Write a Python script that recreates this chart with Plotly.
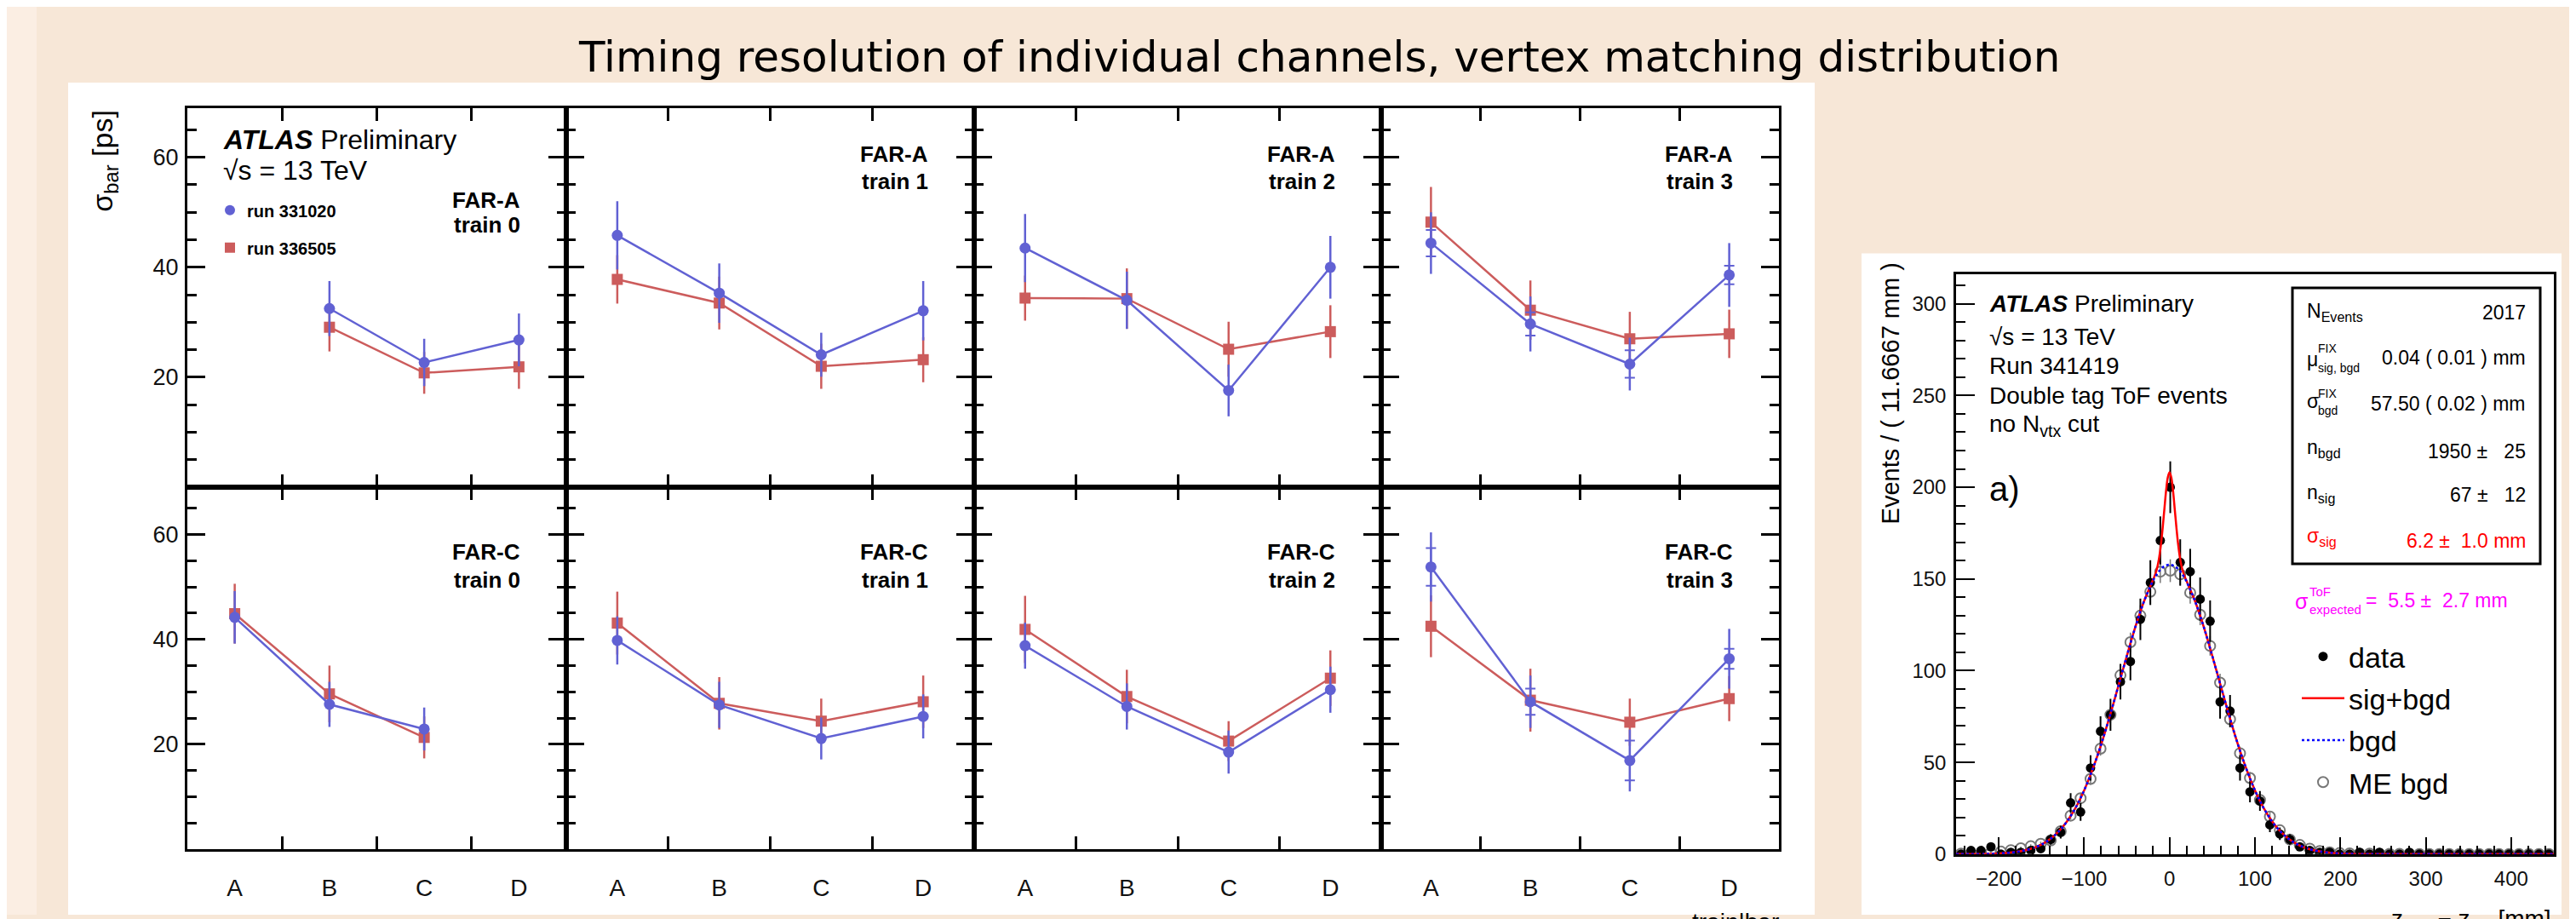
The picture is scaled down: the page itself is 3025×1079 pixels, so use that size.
import plotly.graph_objects as go

W, H = 3025, 1079


def PX(x):
    return x / W


def PY(y):
    return 1 - y / H


# ---------------- data : left grid (sigma_bar in ps) ----------------
categories = ["A", "B", "C", "D"]
cat_pos = [0, 1, 2, 3]
y_ticks_left = [20, 40, 60]

fara_t0_r331020 = [None, 32.5, 22.7, 26.8]
fara_t0_r331020_err = [None, 5.0, 4.3, 4.8]
fara_t0_r336505 = [None, 29.1, 20.8, 21.9]
fara_t0_r336505_err = [None, 4.4, 3.8, 4.0]

fara_t1_r331020 = [45.8, 35.3, 24.1, 32.1]
fara_t1_r331020_err = [6.2, 5.4, 4.0, 5.4]
fara_t1_r336505 = [37.8, 33.5, 22.0, 23.2]
fara_t1_r336505_err = [4.4, 4.8, 4.1, 4.1]

fara_t2_r331020 = [43.5, 34.0, 17.6, 40.0]
fara_t2_r331020_err = [6.2, 5.2, 4.7, 5.7]
fara_t2_r336505 = [34.4, 34.3, 25.1, 28.3]
fara_t2_r336505_err = [4.1, 5.5, 5.0, 4.8]

fara_t3_r331020 = [44.4, 29.7, 22.4, 38.6]
fara_t3_r331020_err = [5.6, 5.0, 4.8, 5.8]
fara_t3_r331020_stat = [2.4, 2.1, 2.5, 1.7]
fara_t3_r336505 = [48.2, 32.2, 27.0, 27.9]
fara_t3_r336505_err = [6.4, 5.4, 4.9, 4.4]

farc_t0_r331020 = [44.2, 27.6, 22.9, None]
farc_t0_r331020_err = [5.0, 4.3, 4.1, None]
farc_t0_r336505 = [44.9, 29.6, 21.3, None]
farc_t0_r336505_err = [5.7, 5.4, 4.0, None]

farc_t1_r331020 = [39.8, 27.5, 21.1, 25.3]
farc_t1_r331020_err = [4.6, 4.4, 4.0, 4.2]
farc_t1_r336505 = [43.1, 27.8, 24.4, 28.1]
farc_t1_r336505_err = [6.0, 5.0, 4.3, 5.0]

farc_t2_r331020 = [38.8, 27.2, 18.5, 30.4]
farc_t2_r331020_err = [4.4, 4.4, 4.1, 4.4]
farc_t2_r336505 = [41.9, 29.1, 20.6, 32.6]
farc_t2_r336505_err = [6.4, 5.1, 3.8, 5.3]

farc_t3_r331020 = [53.8, 28.1, 16.9, 36.3]
farc_t3_r331020_err = [6.6, 5.0, 5.9, 5.7]
farc_t3_r331020_stat = [3.6, 2.5, 3.8, 1.9]
farc_t3_r336505 = [42.5, 28.4, 24.2, 28.7]
farc_t3_r336505_err = [5.9, 6.0, 4.5, 4.3]

# ---------------- data : right histogram ----------------
bin_centers = [-244.17, -232.50, -220.83, -209.17, -197.50, -185.83, -174.17, -162.50, -150.83, -139.17,
               -127.50, -115.83, -104.17, -92.50, -80.83, -69.17, -57.50, -45.83, -34.17, -22.50,
               -10.83, 0.83, 12.50, 24.17, 35.83, 47.50, 59.17, 70.83, 82.50, 94.17,
               105.83, 117.50, 129.17, 140.83, 152.50, 164.17, 175.83, 187.50, 199.17, 210.83,
               222.50, 234.17, 245.83, 257.50, 269.17, 280.83, 292.50, 304.17, 315.83, 327.50,
               339.17, 350.83, 362.50, 374.17, 385.83, 397.50, 409.17, 420.83, 432.50, 444.17]
data_counts = [0, 2, 2, 4, 0, 1, 1, 2, 3, 8,
               12, 28, 23, 47, 67, 76, 94, 105, 128, 148,
               171, 200, 159, 154, 139, 127, 83, 78, 47, 34,
               29, 16, 11, 8, 4, 2, 1, 1, 0, 0,
               1, 0, 1, 0, 0, 1, 0, 0, 0, 0,
               0, 0, 0, 0, 0, 0, 0, 0, 0, 0]
data_err = [0, 1.4, 1.4, 2.0, 0, 1.0, 1.0, 1.4, 1.7, 2.8,
            3.5, 5.3, 4.8, 6.9, 8.2, 8.7, 9.7, 10.2, 11.3, 12.2,
            13.1, 14.1, 12.6, 12.4, 11.8, 11.3, 9.1, 8.8, 6.9, 5.8,
            5.4, 4.0, 3.3, 2.8, 2.0, 1.4, 1.0, 1.0, 0, 0,
            1.0, 0, 1.0, 0, 0, 1.0, 0, 0, 0, 0,
            0, 0, 0, 0, 0, 0, 0, 0, 0, 0]
me_bgd = [0.3, 0.4, 0.6, 0.9, 1.4, 2.2, 3.2, 4.3, 5.6, 7.5,
          12.5, 21.0, 30.5, 41.0, 57.5, 76.0, 97.5, 115.5, 130.0, 143.0,
          154.0, 154.5, 152.5, 142.5, 130.5, 113.5, 93.5, 73.5, 55.0, 41.5,
          29.5, 20.5, 13.0, 8.0, 5.0, 3.0, 1.7, 1.0, 0.6, 0.4,
          0.3, 0.3, 0.2, 0.2, 0.2, 0.2, 0.1, 0.1, 0.1, 0.1,
          0.1, 0.1, 0.1, 0.1, 0.1, 0.1, 0.1, 0.1, 0.1, 0.1]
me_bgd_err = [0.3, 0.3, 0.4, 0.5, 0.6, 0.8, 0.9, 1.1, 1.2, 1.4,
              1.8, 2.3, 2.8, 3.2, 3.8, 4.3, 4.9, 5.3, 5.7, 6.0,
              6.2, 6.2, 6.2, 6.0, 5.7, 5.3, 4.8, 4.3, 3.7, 3.2,
              2.7, 2.3, 1.8, 1.4, 1.1, 0.9, 0.7, 0.5, 0.4, 0.3,
              0.3, 0.3, 0.2, 0.2, 0.2, 0.2, 0.1, 0.1, 0.1, 0.1,
              0.1, 0.1, 0.1, 0.1, 0.1, 0.1, 0.1, 0.1, 0.1, 0.1]
fit_x = [-250, -240, -230, -220, -210, -200, -190, -180, -170, -160, -150, -140, -130, -120, -110,
         -100, -90, -80, -70, -60, -50, -40, -30, -20, -18, -16, -14, -12, -10, -8, -6, -4, -2,
         0, 2, 4, 6, 8, 10, 12, 14, 16, 18, 20, 30, 40, 50, 60, 70, 80, 90, 100, 110, 120, 130,
         140, 150, 160, 170, 180, 190, 200, 210, 220, 230, 240, 250, 300, 350, 400, 450]
fit_bgd = [0.01, 0.03, 0.05, 0.1, 0.2, 0.37, 0.67, 1.18, 1.99, 3.29, 5.25, 8.14, 12.25, 17.88, 25.3,
           34.8, 46.4, 59.9, 75.2, 91.6, 108.1, 123.9, 137.7, 148.5, 150.3, 151.8, 153.2, 154.4, 155.4, 156.3, 156.9, 157.4, 157.7,
           157.8, 157.7, 157.4, 156.9, 156.3, 155.4, 154.4, 153.2, 151.8, 150.3, 148.5, 137.7, 123.9, 108.1, 91.6, 75.2, 59.9, 46.4, 34.8, 25.3, 17.88, 12.25,
           8.14, 5.25, 3.29, 1.99, 1.18, 0.67, 0.37, 0.2, 0.1, 0.05, 0.03, 0.01, 0.0, 0.0, 0.0, 0.0]
fit_sig_bgd = [0.01, 0.03, 0.05, 0.1, 0.2, 0.37, 0.67, 1.18, 1.99, 3.29, 5.25, 8.14, 12.25, 17.88, 25.3,
               34.8, 46.4, 59.9, 75.2, 91.6, 108.1, 123.9, 137.7, 148.8, 151.0, 153.6, 157.1, 162.1, 169.1, 178.2, 188.4, 198.3, 205.4,
               208.1, 205.4, 198.3, 188.4, 178.2, 169.1, 162.1, 157.1, 153.6, 151.0, 148.8, 137.7, 123.9, 108.1, 91.6, 75.2, 59.9, 46.4, 34.8, 25.3, 17.88, 12.25,
               8.14, 5.25, 3.29, 1.99, 1.18, 0.67, 0.37, 0.2, 0.1, 0.05, 0.03, 0.01, 0.0, 0.0, 0.0, 0.0]
right_xticks = [-200, -100, 0, 100, 200, 300, 400]
right_yticks = [0, 50, 100, 150, 200, 250, 300]

# ---------------- styling ----------------
BLUE = "#6161D3"
RED = "#CC5C5C"
ROOT_FONT = "Liberation Sans, Arial, sans-serif"
BG = "#F7E7D7"

fig = go.Figure()

panels = [
    ("FAR-A", "train 0", fara_t0_r331020, fara_t0_r331020_err, fara_t0_r336505, fara_t0_r336505_err, None),
    ("FAR-A", "train 1", fara_t1_r331020, fara_t1_r331020_err, fara_t1_r336505, fara_t1_r336505_err, None),
    ("FAR-A", "train 2", fara_t2_r331020, fara_t2_r331020_err, fara_t2_r336505, fara_t2_r336505_err, None),
    ("FAR-A", "train 3", fara_t3_r331020, fara_t3_r331020_err, fara_t3_r336505, fara_t3_r336505_err, fara_t3_r331020_stat),
    ("FAR-C", "train 0", farc_t0_r331020, farc_t0_r331020_err, farc_t0_r336505, farc_t0_r336505_err, None),
    ("FAR-C", "train 1", farc_t1_r331020, farc_t1_r331020_err, farc_t1_r336505, farc_t1_r336505_err, None),
    ("FAR-C", "train 2", farc_t2_r331020, farc_t2_r331020_err, farc_t2_r336505, farc_t2_r336505_err, None),
    ("FAR-C", "train 3", farc_t3_r331020, farc_t3_r331020_err, farc_t3_r336505, farc_t3_r336505_err, farc_t3_r331020_stat),
]

col_edges = [212, 657, 1136, 1614, 2081]
row_edges = [(120, 571), (571, 1001)]

annotations = []


def ann(x, y, text, size, color="black", xanchor="left", yanchor="middle", family=ROOT_FONT, angle=0):
    annotations.append(dict(x=PX(x), y=PY(y), xref="paper", yref="paper", text=text, showarrow=False,
                            xanchor=xanchor, yanchor=yanchor, textangle=angle,
                            font=dict(size=size, color=color, family=family)))


layout_axes = {}
for k, (det, train, b, be, r, re_, bstat) in enumerate(panels):
    n = k + 1
    row, col = divmod(k, 4)
    xs = "x" if n == 1 else f"x{n}"
    ys = "y" if n == 1 else f"y{n}"
    xl, xr = col_edges[col], col_edges[col + 1]
    yt, yb = row_edges[row]
    layout_axes["xaxis" if n == 1 else f"xaxis{n}"] = dict(
        domain=[PX(xl), PX(xr)], anchor=ys, range=[-0.5, 3.5],
        tickmode="array", tickvals=cat_pos, ticktext=categories,
        showticklabels=(row == 1), ticks="inside", ticklen=0, tickwidth=2, tickcolor="black",
        ticklabelstandoff=18,
        minor=dict(tickvals=[0.5, 1.5, 2.5], ticks="inside", ticklen=15, tickwidth=2.5, tickcolor="black"),
        showline=True, linewidth=3, linecolor="black", mirror="ticks",
        showgrid=False, zeroline=False, fixedrange=True,
        tickfont=dict(size=28, family=ROOT_FONT, color="#111"))
    layout_axes["yaxis" if n == 1 else f"yaxis{n}"] = dict(
        domain=[PY(yb), PY(yt)], anchor=xs, range=[0, 69],
        tickmode="array", tickvals=y_ticks_left,
        showticklabels=(col == 0), ticks="inside", ticklen=21, tickwidth=3, tickcolor="black",
        ticklabelstandoff=2,
        minor=dict(dtick=5, tick0=0, ticks="inside", ticklen=11, tickwidth=2.5, tickcolor="black"),
        showline=True, linewidth=3, linecolor="black", mirror="ticks",
        showgrid=False, zeroline=False, fixedrange=True,
        tickfont=dict(size=27, family=ROOT_FONT, color="#111"))

    fig.add_trace(go.Scatter(x=cat_pos, y=r, mode="lines+markers", xaxis=xs, yaxis=ys,
                             line=dict(color=RED, width=2.5),
                             marker=dict(symbol="square", size=13, color=RED),
                             error_y=dict(type="data", array=re_, color=RED, thickness=2.5, width=0),
                             showlegend=False, hoverinfo="skip"))
    fig.add_trace(go.Scatter(x=cat_pos, y=b, mode="lines+markers", xaxis=xs, yaxis=ys,
                             line=dict(color=BLUE, width=2.5),
                             marker=dict(symbol="circle", size=13, color=BLUE),
                             error_y=dict(type="data", array=be, color=BLUE, thickness=2.5, width=0),
                             showlegend=False, hoverinfo="skip"))
    if bstat is not None:
        fig.add_trace(go.Scatter(x=cat_pos, y=b, mode="markers", xaxis=xs, yaxis=ys,
                                 marker=dict(size=2, color="rgba(0,0,0,0)"),
                                 error_y=dict(type="data", array=bstat, color=BLUE, thickness=2, width=6),
                                 showlegend=False, hoverinfo="skip"))

    xr_text = xr - 52
    if row == 0 and col == 0:
        ya, yb2 = 230, 259
    elif row == 0:
        ya, yb2 = 175, 207
    else:
        ya, yb2 = 648, 681
    ann(xr_text, ya, f"<b>{det}</b>", 26, xanchor="right")
    ann(xr_text, yb2, f"<b>{train}</b>", 26, xanchor="right")

# legend entries for the left grid
fig.add_trace(go.Scatter(x=[None], y=[None], mode="markers", name="<b>run 331020</b>",
                         marker=dict(symbol="circle", size=12, color=BLUE), legend="legend",
                         legendgroup="a", xaxis="x", yaxis="y"))
fig.add_trace(go.Scatter(x=[None], y=[None], mode="markers", name="<b>run 336505</b>",
                         marker=dict(symbol="square", size=12, color=RED), legend="legend",
                         legendgroup="b", xaxis="x", yaxis="y"))

# ---------------- right histogram ----------------
fig.add_trace(go.Scatter(x=bin_centers, y=me_bgd, mode="markers", name="ME bgd", xaxis="x9", yaxis="y9",
                         marker=dict(symbol="circle-open", size=12, color="#777777", line=dict(width=2)),
                         error_y=dict(type="data", array=me_bgd_err, color="#777777", thickness=1.5, width=0),
                         legend="legend2", legendgroup="me", legendrank=4, hoverinfo="skip"))
fig.add_trace(go.Scatter(x=bin_centers, y=data_counts, mode="markers", name="data", xaxis="x9", yaxis="y9",
                         marker=dict(symbol="circle", size=11, color="black"),
                         error_y=dict(type="data", array=data_err, color="black", thickness=2, width=0),
                         legend="legend2", legendgroup="data", legendrank=1, hoverinfo="skip"))
fig.add_trace(go.Scatter(x=fit_x, y=fit_sig_bgd, mode="lines", name="sig+bgd", xaxis="x9", yaxis="y9",
                         line=dict(color="#FF0000", width=2.5, shape="spline"),
                         legend="legend2", legendgroup="sb", legendrank=2, hoverinfo="skip"))
fig.add_trace(go.Scatter(x=fit_x, y=fit_bgd, mode="lines", name="bgd", xaxis="x9", yaxis="y9",
                         line=dict(color="#0000FF", width=2.5, dash="dot", shape="spline"),
                         legend="legend2", legendgroup="bg", legendrank=3, hoverinfo="skip"))

layout_axes["xaxis9"] = dict(
    domain=[PX(2289), PX(2991)], anchor="y9", range=[-250, 450],
    tickmode="array", tickvals=right_xticks, ticks="inside", ticklen=20, tickwidth=2, tickcolor="black",
    ticklabelstandoff=6,
    minor=dict(dtick=20, tick0=0, ticks="inside", ticklen=10, tickwidth=1.5, tickcolor="black"),
    showline=True, linewidth=2.5, linecolor="black", mirror=True,
    showgrid=False, zeroline=False, fixedrange=True,
    tickfont=dict(size=24, family=ROOT_FONT, color="#111"))
layout_axes["yaxis9"] = dict(
    domain=[PY(1007), PY(318)], anchor="x9", range=[0, 316],
    tickmode="array", tickvals=right_yticks, ticks="inside", ticklen=22, tickwidth=2, tickcolor="black",
    ticklabelstandoff=4,
    minor=dict(dtick=10, tick0=0, ticks="inside", ticklen=11, tickwidth=1.5, tickcolor="black"),
    showline=True, linewidth=2.5, linecolor="black", mirror=True,
    showgrid=False, zeroline=False, fixedrange=True,
    tickfont=dict(size=24, family=ROOT_FONT, color="#111"))

# ---------------- texts ----------------
ann(1541, 60, "Timing resolution of individual channels, vertex matching distribution", 50,
    xanchor="center", family="DejaVu Sans, sans-serif")

# left grid
ann(115, 183, "σ<sub>bar</sub> [ps]", 34, xanchor="center", angle=-90)
ann(252, 158, "<b><i>ATLAS</i></b> Preliminary", 32)
ann(252, 194, "√s = 13 TeV", 32)
ann(2083, 1070, "train|bar", 28, xanchor="right", yanchor="top")

# right plot
ann(2212, 460, "Events / ( 11.6667 mm )", 29, xanchor="center", angle=-90)
ann(2326, 353, "<b><i>ATLAS</i></b> Preliminary", 28)
ann(2326, 392, "√s = 13 TeV", 28)
ann(2326, 427, "Run 341419", 28)
ann(2326, 462, "Double tag ToF events", 28)
ann(2326, 497, "no N<sub>vtx</sub> cut", 28)
ann(2326, 573, "a)", 40)
ann(2990, 1066, "z<sub>ToF</sub> − z<sub>vtx</sub> [mm]", 28, xanchor="right", yanchor="top")

# info box
ann(2699, 363, "N<sub>Events</sub>", 23)
ann(2699, 419, "μ", 23)
ann(2712, 406, "FIX", 14)
ann(2712, 429, "sig, bgd", 14)
ann(2699, 469, "σ", 23)
ann(2712, 460, "FIX", 14)
ann(2712, 480, "bgd", 14)
ann(2699, 525, "n<sub>bgd</sub>", 23)
ann(2699, 578, "n<sub>sig</sub>", 23)
ann(2699, 630, "σ<sub>sig</sub>", 23, color="#FF0000")
ann(2960, 363, "2017", 23, xanchor="right")
ann(2960, 417, "0.04 ( 0.01 ) mm", 23, xanchor="right")
ann(2960, 472, "57.50 ( 0.02 ) mm", 23, xanchor="right")
ann(2960, 528, "1950 ±\u00a0\u00a0 25", 23, xanchor="right")
ann(2960, 580, "67 ±\u00a0\u00a0 12", 23, xanchor="right")
ann(2960, 635, "6.2 ±\u00a0 1.0 mm", 23, xanchor="right", color="#FF0000")

# expected sigma (magenta)
ann(2685, 707, "σ", 25, color="#FF00FF")
ann(2702, 695, "ToF", 15, color="#FF00FF")
ann(2702, 716, "expected", 15, color="#FF00FF")
ann(2768, 705, "= \u00a05.5 ±\u00a0 2.7 mm", 23, color="#FF00FF")

shapes = [
    dict(type="rect", xref="paper", yref="paper", x0=0, x1=PX(35), y0=0, y1=1,
         fillcolor="#FBEEE3", line=dict(width=0), layer="below"),
    dict(type="rect", xref="paper", yref="paper", x0=PX(72), x1=PX(2123), y0=0, y1=PY(90),
         fillcolor="white", line=dict(width=0), layer="below"),
    dict(type="rect", xref="paper", yref="paper", x0=PX(2178), x1=PX(3000), y0=0, y1=PY(293),
         fillcolor="white", line=dict(width=0), layer="below"),
    dict(type="rect", xref="paper", yref="paper", x0=PX(2684), x1=PX(2975), y0=PY(662), y1=PY(334),
         fillcolor="rgba(0,0,0,0)", line=dict(width=3, color="black"), layer="above"),
]

fig.update_layout(
    width=W, height=H, autosize=False,
    margin=dict(l=0, r=0, t=0, b=0, pad=0),
    paper_bgcolor=BG, plot_bgcolor="white",
    annotations=annotations, shapes=shapes,
    legend=dict(x=PX(242), y=PY(222), xanchor="left", yanchor="top", bgcolor="rgba(0,0,0,0)",
                font=dict(size=20, family=ROOT_FONT, color="black"), tracegroupgap=15, itemwidth=30),
    legend2=dict(x=PX(2690), y=PY(743), xanchor="left", yanchor="top", bgcolor="rgba(0,0,0,0)",
                 font=dict(size=34, family=ROOT_FONT, color="black"), tracegroupgap=2, itemwidth=50),
    **layout_axes,
)

fig.write_html("out.html")
